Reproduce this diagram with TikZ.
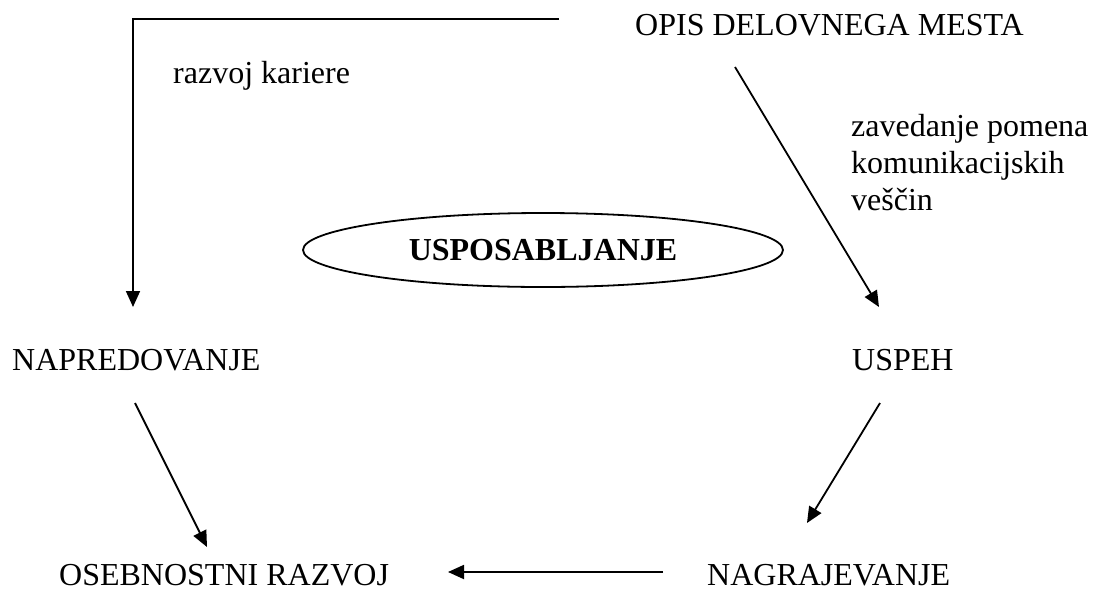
\documentclass[tikz,border=0pt]{standalone}
\usepackage{fontspec}
\setmainfont{Liberation Serif}
\usetikzlibrary{arrows.meta,shapes.geometric}
\begin{document}
\begin{tikzpicture}[x=1pt,y=-1pt,
  lbl/.style={anchor=base west,inner sep=0pt,font=\fontsize{32}{37}\selectfont},
  conn/.style={line width=1.8pt,-{Triangle[length=16pt,width=14pt]}},
  plain/.style={line width=1.8pt}]
\useasboundingbox (0,0) rectangle (1093,590);
% nodes
\node[lbl] (opis) at (635,35) {OPIS DELOVNEGA MESTA};
\node[lbl] (razv) at (173,83) {razvoj kariere};
\node[lbl,align=left] (zav) at (851,210) {zavedanje pomena\\komunikacijskih\\veščin};
\node[ellipse,draw,line width=1.8pt,minimum width=480pt,minimum height=74pt,inner sep=0pt,
      font=\fontsize{32}{37}\selectfont\bfseries] (uspo) at (543,250) {USPOSABLJANJE};
\node[lbl] (napr) at (12,370) {NAPREDOVANJE};
\node[lbl] (uspeh) at (852,370) {USPEH};
\node[lbl] (oseb) at (59,585) {OSEBNOSTNI RAZVOJ};
\node[lbl] (nagr) at (707,585) {NAGRAJEVANJE};
% connector end points
\coordinate (opisL) at (559,19);
\coordinate (naprT) at (133,307);
\coordinate (opisB) at (735,67);
\coordinate (uspehT) at (879,307);
\coordinate (uspehB) at (880,403);
\coordinate (nagrT) at (807,523);
\coordinate (naprB) at (135,403);
\coordinate (osebT) at (207,547);
\coordinate (nagrL) at (663,572);
\coordinate (osebR) at (448,572);
% connectors
\draw[conn] (opisL) -| (naprT);
\draw[conn] (opisB) -- (uspehT);
\draw[conn] (uspehB) -- (nagrT);
\draw[conn] (naprB) -- (osebT);
\draw[conn] (nagrL) -- (osebR);
\end{tikzpicture}
\end{document}
